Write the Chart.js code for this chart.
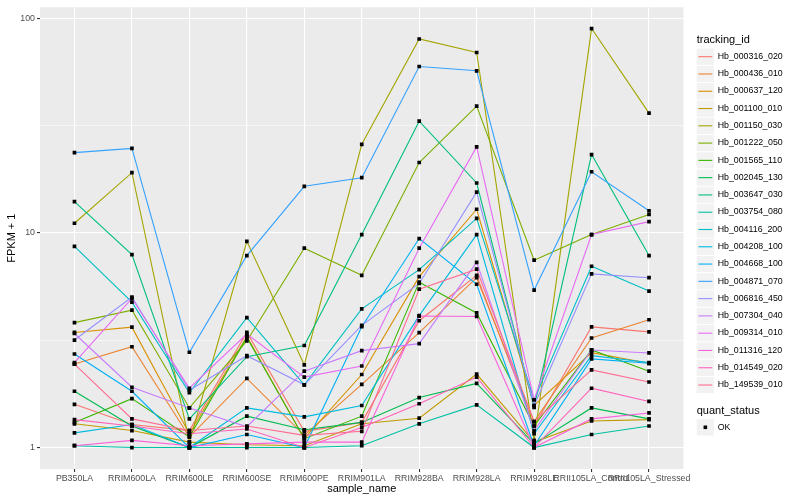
<!DOCTYPE html>
<html><head><meta charset="utf-8">
<script src="https://cdn.jsdelivr.net/npm/chart.js@4.4.1/dist/chart.umd.min.js"></script>
<style>
html,body{margin:0;padding:0;background:#fff;}
#wrap{position:relative;width:800px;height:500px;font-family:"Liberation Sans",Arial,Helvetica,sans-serif;overflow:hidden;}
canvas{position:absolute;left:0;top:0;}
.t{position:absolute;white-space:nowrap;line-height:1;}
</style></head><body>
<div id="wrap"><canvas id="c" width="800" height="500"></canvas><div id="legend"></div></div>
<script>
const categories = ["PB350LA","RRIM600LA","RRIM600LE","RRIM600SE","RRIM600PE","RRIM901LA","RRIM928BA","RRIM928LA","RRIM928LE","RRII105LA_Control","RRII105LA_Stressed"];
const seriesNames = ["Hb_000316_020","Hb_000436_010","Hb_000637_120","Hb_001100_010","Hb_001150_030","Hb_001222_050","Hb_001565_110","Hb_002045_130","Hb_003647_030","Hb_003754_080","Hb_004116_200","Hb_004208_100","Hb_004668_100","Hb_004871_070","Hb_006816_450","Hb_007304_040","Hb_009314_010","Hb_011316_120","Hb_014549_020","Hb_149539_010"];
const seriesColors = ["#F8766D","#EA8331","#D89000","#C09B00","#A3A500","#7CAE00","#39B600","#00BB4E","#00BF7D","#00C1A3","#00BFC4","#00BAE0","#00B0F6","#35A2FF","#9590FF","#C77CFF","#E76BF3","#FA62DB","#FF62BC","#FF6C91"];
const hb_000316_020 = [1.59, 1.28, 1.20, 3.44, 1.19, 1.31, 3.90, 6.35, 1.26, 3.65, 3.46];
const hb_000436_010 = [2.45, 2.95, 1.12, 2.10, 1.14, 1.97, 3.43, 6.19, 1.32, 3.24, 3.94];
const hb_000637_120 = [3.44, 3.64, 1.16, 3.30, 1.10, 2.19, 6.26, 12.9, 1.57, 2.77, 2.47];
const hb_001100_010 = [1.29, 1.20, 1.06, 1.03, 1.02, 1.29, 1.37, 2.20, 1.06, 1.33, 1.35];
const hb_001150_030 = [11.1, 19.1, 1.06, 9.14, 2.43, 25.9, 80.2, 69.4, 1.08, 89.7, 36.2];
const hb_001222_050 = [3.82, 4.37, 1.53, 3.14, 8.50, 6.35, 21.3, 39.0, 7.47, 9.83, 12.2];
const hb_001565_110 = [1.31, 1.69, 1.12, 3.26, 1.10, 1.40, 5.90, 4.24, 1.26, 2.85, 2.27];
const hb_002045_130 = [1.83, 1.26, 1.00, 1.40, 1.21, 1.31, 1.71, 1.99, 1.04, 1.53, 1.36];
const hb_003647_030 = [14.0, 7.93, 1.36, 2.65, 2.99, 9.83, 33.2, 17.1, 1.54, 23.2, 7.85];
const hb_003754_080 = [1.02, 1.00, 1.00, 1.00, 1.00, 1.02, 1.29, 1.58, 1.00, 1.15, 1.26];
const hb_004116_200 = [8.66, 4.76, 1.80, 4.03, 1.96, 4.43, 6.75, 11.7, 1.67, 7.00, 5.36];
const hb_004208_100 = [1.17, 1.28, 1.00, 1.53, 1.39, 1.57, 4.12, 9.83, 1.16, 2.68, 2.49];
const hb_004668_100 = [2.73, 1.83, 1.00, 1.15, 1.00, 3.66, 9.42, 5.77, 1.02, 2.59, 2.47];
const hb_004871_070 = [23.7, 24.8, 2.78, 7.84, 16.5, 18.1, 59.7, 57.0, 5.42, 19.3, 12.7];
const hb_006816_450 = [3.17, 5.03, 1.85, 2.68, 1.96, 3.71, 5.82, 15.5, 1.57, 6.45, 6.19];
const hb_007304_040 = [3.40, 1.91, 1.53, 1.25, 2.27, 2.83, 3.05, 7.30, 1.20, 2.85, 2.76];
const hb_009314_010 = [2.49, 4.96, 1.89, 3.38, 2.13, 2.40, 8.50, 25.2, 1.67, 9.83, 11.3];
const hb_011316_120 = [1.02, 1.08, 1.02, 1.04, 1.06, 1.06, 4.10, 4.08, 1.00, 1.36, 1.45];
const hb_014549_020 = [1.35, 1.26, 1.16, 1.22, 1.00, 1.24, 1.60, 2.13, 1.00, 1.89, 1.64];
const hb_149539_010 = [2.45, 1.36, 1.20, 1.26, 1.14, 1.19, 5.47, 6.78, 1.32, 2.30, 2.02];
const seriesValues = [hb_000316_020,hb_000436_010,hb_000637_120,hb_001100_010,hb_001150_030,hb_001222_050,hb_001565_110,hb_002045_130,hb_003647_030,hb_003754_080,hb_004116_200,hb_004208_100,hb_004668_100,hb_004871_070,hb_006816_450,hb_007304_040,hb_009314_010,hb_011316_120,hb_014549_020,hb_149539_010];
const yMajorTicks = [1, 10, 100];
const yMinorTicks = [3.1623, 31.623];
const quantStatus = ["OK"];

const FONT = '"Liberation Sans", Arial, Helvetica, sans-serif';
const isMajor = v => yMajorTicks.some(m => Math.abs(m - v) < 1e-6);

const lineSets = seriesValues.map((vals, i) => ({
  label: seriesNames[i],
  data: vals.map((v, j) => ({x: j, y: v})),
  borderColor: seriesColors[i],
  backgroundColor: seriesColors[i],
  borderWidth: 1.1,
  pointRadius: 0,
  fill: false,
  tension: 0,
  order: 100 - i
}));
const pointSet = {
  label: quantStatus[0],
  data: seriesValues.flatMap(vals => vals.map((v, j) => ({x: j, y: v}))),
  showLine: false,
  pointStyle: 'rect',
  pointRadius: 2.6,
  pointBorderWidth: 0,
  pointBackgroundColor: '#000',
  pointBorderColor: '#000',
  order: 0
};

// legend geometry
const keyX = 696.7, keyW = 17.3, rowH = 17.28, firstRow = 56.7, qy = 427.3;

const panelBg = {
  id: 'panelBg',
  beforeDraw(chart) {
    const {ctx, chartArea: a} = chart;
    ctx.save();
    ctx.fillStyle = '#EBEBEB';
    ctx.fillRect(a.left, a.top, a.right - a.left, a.bottom - a.top);
    ctx.restore();
  },
  afterDraw(chart) {
    const ctx = chart.ctx;
    ctx.save();
    seriesNames.forEach((n, i) => {
      const cy = firstRow + rowH * i;
      ctx.fillStyle = '#F2F2F2';
      ctx.fillRect(keyX, cy - rowH / 2 + 0.5, keyW, rowH - 1);
      ctx.strokeStyle = seriesColors[i];
      ctx.lineWidth = 1.1;
      ctx.beginPath();
      ctx.moveTo(keyX + 1.7, cy);
      ctx.lineTo(keyX + keyW - 1.7, cy);
      ctx.stroke();
    });
    ctx.fillStyle = '#F2F2F2';
    ctx.fillRect(keyX, qy - rowH / 2 + 0.5, keyW, rowH - 1);
    ctx.fillStyle = '#000';
    ctx.fillRect(keyX + keyW / 2 - 1.8, qy - 1.8, 3.6, 3.6);
    ctx.restore();
  }
};

new Chart(document.getElementById('c'), {
  type: 'line',
  data: {datasets: [pointSet, ...lineSets]},
  plugins: [panelBg],
  options: {
    responsive: false,
    animation: false,
    devicePixelRatio: 1,
    layout: {padding: {left: 0, top: 5, right: 116.5, bottom: 0}},
    plugins: {legend: {display: false}, tooltip: {enabled: false}},
    scales: {
      x: {
        type: 'linear',
        min: -0.6,
        max: categories.length - 1 + 0.6,
        afterBuildTicks: s => { s.ticks = categories.map((c, i) => ({value: i})); },
        afterFit: s => { s.height = 31; },
        border: {display: false},
        grid: {color: '#FFFFFF', lineWidth: 1.1, tickColor: '#333333', tickLength: 3, tickWidth: 1.1},
        ticks: {autoSkip: false, maxRotation: 0, minRotation: 0, padding: 1, color: '#4D4D4D',
                font: {size: 8.8, family: FONT}, callback: v => categories[Math.round(v)]},
        title: {display: true, text: 'sample_name', color: '#000', font: {size: 11, family: FONT}, padding: {top: 0, bottom: 4}}
      },
      y: {
        type: 'logarithmic',
        min: Math.pow(10, -0.1),
        max: Math.pow(10, 2.052),
        afterBuildTicks: s => { s.ticks = [1, yMinorTicks[0], 10, yMinorTicks[1], 100].map(v => ({value: v})); },
        afterFit: s => { s.width = 40; },
        border: {display: false},
        grid: {
          color: '#FFFFFF',
          lineWidth: c => (c.tick && isMajor(c.tick.value)) ? 1.1 : 0.55,
          tickColor: c => (c.tick && isMajor(c.tick.value)) ? '#333333' : 'rgba(0,0,0,0)',
          tickLength: 3, tickWidth: 1.1
        },
        ticks: {padding: 2, color: '#4D4D4D', font: {size: 8.8, family: FONT},
                callback: v => isMajor(v) ? String(Math.round(v)) : ''},
        title: {display: true, text: 'FPKM + 1', color: '#000', font: {size: 11, family: FONT}, padding: {top: 5.4, bottom: 0}}
      }
    }
  }
});

// legend text (HTML)
const lg = document.getElementById('legend');
function add(html) { lg.insertAdjacentHTML('beforeend', html); }
add(`<div class="t" style="left:${keyX}px;top:${40 - 6}px;font-size:11px;color:#000">tracking_id</div>`);
seriesNames.forEach((n, i) => {
  const cy = firstRow + rowH * i;
  add(`<div class="t" style="left:${keyX + 21}px;top:${cy - 4.8}px;font-size:8.8px;color:#000">${n}</div>`);
});
add(`<div class="t" style="left:${keyX}px;top:${411 - 6}px;font-size:11px;color:#000">quant_status</div>`);
add(`<div class="t" style="left:${keyX + 21}px;top:${qy - 4.8}px;font-size:8.8px;color:#000">${quantStatus[0]}</div>`);
</script>
</body></html>
